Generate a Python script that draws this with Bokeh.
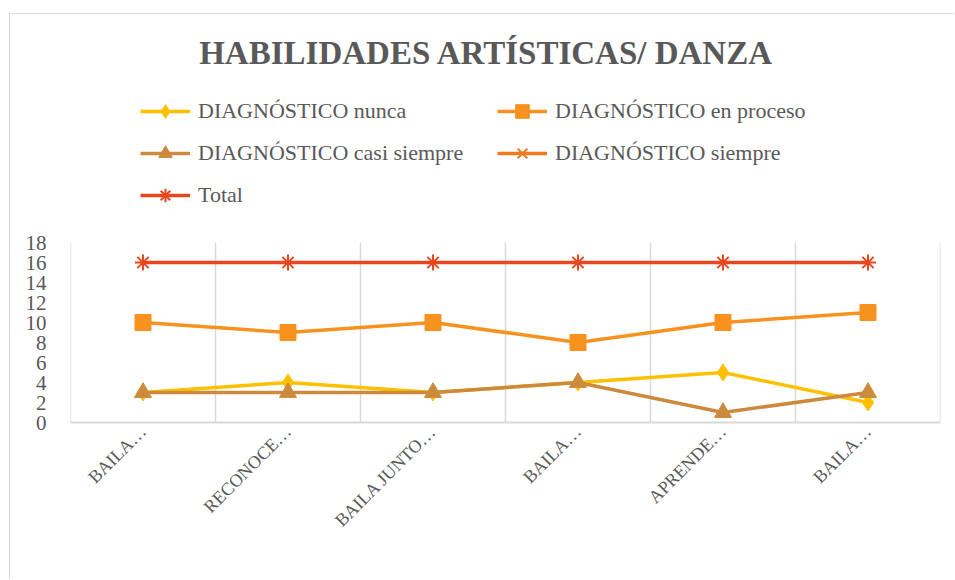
import math
from bokeh.plotting import figure
from bokeh.models import Range1d, FixedTicker, Legend, LegendItem, Label
from bokeh.embed import file_html
from bokeh.resources import INLINE

# ---- data ----
title_text = "HABILIDADES ARTÍSTICAS/ DANZA"
categories = ["BAILA…", "RECONOCE…", "BAILA JUNTO…", "BAILA…", "APRENDE…", "BAILA…"]
nunca = [3, 4, 3, 4, 5, 2]
en_proceso = [10, 9, 10, 8, 10, 11]
casi_siempre = [3, 3, 3, 4, 1, 3]
siempre = [float("nan")] * 6
total = [16, 16, 16, 16, 16, 16]
y_ticks = [0, 2, 4, 6, 8, 10, 12, 14, 16, 18]
y_max = 18

series_names = ["DIAGNÓSTICO nunca", "DIAGNÓSTICO en proceso",
                "DIAGNÓSTICO casi siempre", "DIAGNÓSTICO siempre", "Total"]

FONT = "Liberation Serif"
GRAY = "#595959"
GRID = "#d9d9d9"

xs = [i + 0.5 for i in range(len(categories))]
boundaries = list(range(len(categories) + 1))

# frame spans the whole upper area so the legend/title are not clipped;
# 10 px per unit, value axis only shown from 0 to 18
p = figure(width=945, height=566, x_range=Range1d(0, len(categories)),
           y_range=Range1d(0, 40.8), output_backend="svg", toolbar_location=None,
           tools="", min_border_left=60, min_border_right=15,
           min_border_top=0, min_border_bottom=158)
p.outline_line_color = None
p.title.visible = False
p.styles = {"margin-left": "9px", "margin-top": "13px",
            "border-left": "1px solid #d9d9d9", "border-top": "1px solid #d9d9d9"}

# grid at category boundaries, only over the value area
p.xgrid.grid_line_color = None
p.ygrid.grid_line_color = None
p.segment(x0=boundaries, y0=[0] * len(boundaries), x1=boundaries,
          y1=[y_max] * len(boundaries), line_color=GRID, line_width=1.5)

# x axis
p.xaxis.ticker = FixedTicker(ticks=xs)
p.xaxis.major_label_overrides = {x: c for x, c in zip(xs, categories)}
p.xaxis.major_label_orientation = math.pi / 4
p.xaxis.major_label_text_font = FONT
p.xaxis.major_label_text_font_size = "18px"
p.xaxis.major_label_text_color = GRAY
p.xaxis.major_label_standoff = 0
p.xaxis.axis_line_color = GRID
p.xaxis.axis_line_width = 2
p.xaxis.major_tick_line_color = None
p.xaxis.minor_tick_line_color = None

# y axis
p.yaxis.ticker = FixedTicker(ticks=y_ticks)
p.yaxis.bounds = (0, y_max)
p.yaxis.major_label_text_font = FONT
p.yaxis.major_label_text_font_size = "21px"
p.yaxis.major_label_text_color = GRAY
p.yaxis.axis_line_color = None
p.yaxis.major_tick_line_color = None
p.yaxis.minor_tick_line_color = None
p.yaxis.major_label_standoff = 18

specs = [
    (nunca, "#FFC000", "diamond", 17),
    (en_proceso, "#F7921E", "square", 16),
    (casi_siempre, "#CC8B3C", "triangle", 17),
    (siempre, "#EE7B22", "x", 14),
    (total, "#E8461E", "asterisk", 16),
]

items = []
for (vals, col, mk, sz), name in zip(specs, series_names):
    ln = p.line(xs, vals, line_color=col, line_width=3.5)
    if mk in ("x", "asterisk"):
        sc = p.scatter(xs, vals, marker=mk, size=sz, line_color=col, line_width=2)
    else:
        sc = p.scatter(xs, vals, marker=mk, size=sz, fill_color=col, line_color=col)
    items.append(LegendItem(label=name, renderers=[ln, sc]))

legend = Legend(items=items, location=(70, 210), orientation="horizontal", ncols=2,
                glyph_width=50, glyph_height=34, label_height=22, label_width=291,
                label_standoff=8, spacing=8, padding=0, margin=0,
                border_line_color=None, background_fill_alpha=0,
                label_text_font=FONT, label_text_font_size="22px",
                label_text_color=GRAY)
p.add_layout(legend, "center")

title = Label(x=416, y=370, x_units="screen", y_units="screen", text=title_text,
              text_align="center", text_baseline="middle", text_font=FONT,
              text_font_style="bold", text_font_size="33px", text_color=GRAY)
p.add_layout(title)

open("out.html", "w").write(file_html(p, INLINE))
